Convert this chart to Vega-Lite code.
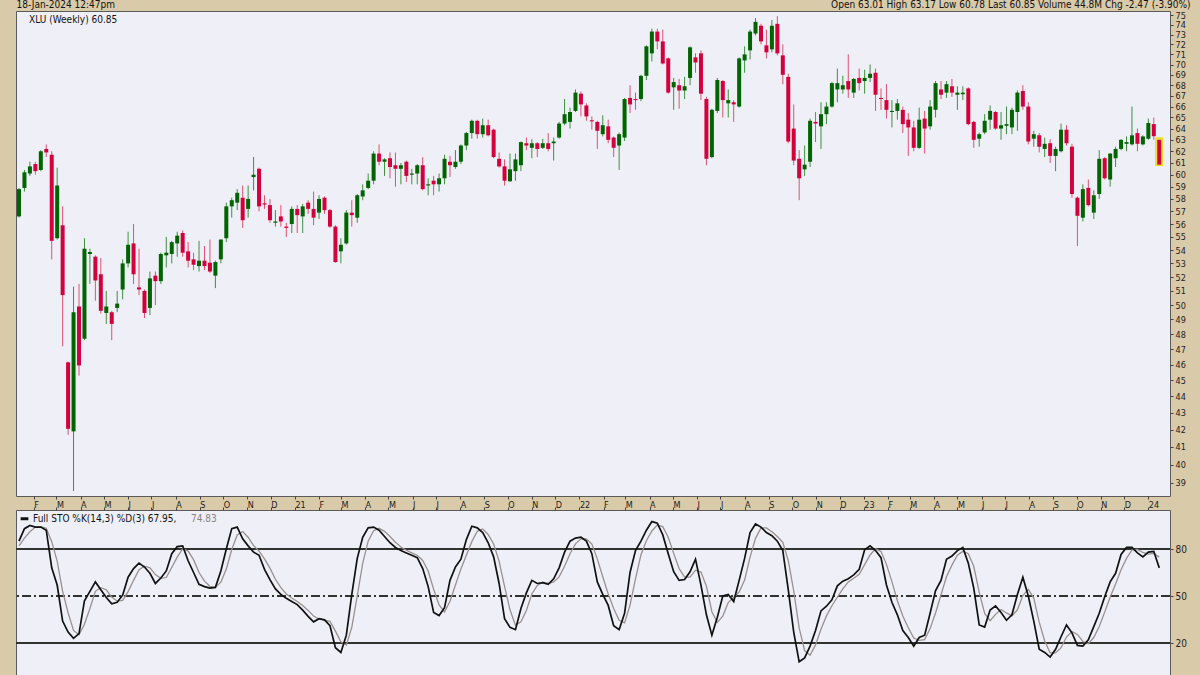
{
"$schema":"https://vega.github.io/schema/vega-lite/v6.json",
"background":"#d9caa9",
"padding":{"left":15,"top":-2,"right":20,"bottom":0},
"config":{
 "view":{"fill":"#eff0f7","stroke":"#5a5a5a","strokeWidth":1},
 "font":"Liberation Sans Narrow, DejaVu Sans Condensed, Liberation Sans, sans-serif",
 "axis":{"labelFont":"Liberation Sans Narrow, DejaVu Sans Condensed, Liberation Sans, sans-serif","titleFont":"Liberation Sans Narrow, DejaVu Sans Condensed, Liberation Sans, sans-serif","labelColor":"#222222","tickColor":"#444444","domain":false,"grid":false,"labelFontSize":9,"tickSize":3},
 "legend":{"labelFont":"Liberation Sans Narrow, DejaVu Sans Condensed, Liberation Sans, sans-serif"}
},
"datasets":{"w":[
{"d":"2020-01-13","o":56.6,"h":58.9,"l":56.5,"c":58.8,"k":85,"dv":82},
{"d":"2020-01-20","o":58.9,"h":60.4,"l":58.6,"c":60.2,"k":93,"dv":87},
{"d":"2020-01-27","o":60.1,"h":61.1,"l":59.9,"c":60.7,"k":95,"dv":91},
{"d":"2020-02-03","o":60.9,"h":61.1,"l":60.0,"c":60.3,"k":94,"dv":94},
{"d":"2020-02-10","o":60.4,"h":62.1,"l":60.3,"c":62.0,"k":94,"dv":94.3},
{"d":"2020-02-17","o":62.2,"h":62.6,"l":61.5,"c":61.9,"k":92,"dv":93.3},
{"d":"2020-02-24","o":61.7,"h":62.0,"l":53.3,"c":54.7,"k":68,"dv":84.7},
{"d":"2020-03-02","o":54.9,"h":60.6,"l":54.8,"c":59.1,"k":57,"dv":72.3},
{"d":"2020-03-09","o":55.9,"h":57.4,"l":47.2,"c":50.7,"k":34,"dv":53},
{"d":"2020-03-16","o":46.15,"h":46.2,"l":41.7,"c":42.05,"k":27,"dv":39.3},
{"d":"2020-03-23","o":41.9,"h":51.3,"l":38.55,"c":49.5,"k":23,"dv":28},
{"d":"2020-03-30","o":49.9,"h":51.5,"l":45.3,"c":45.95,"k":26,"dv":25.3},
{"d":"2020-04-06","o":47.7,"h":54.9,"l":47.6,"c":54.1,"k":47,"dv":32},
{"d":"2020-04-13","o":53.7,"h":54.1,"l":51.5,"c":53.85,"k":53,"dv":42},
{"d":"2020-04-20","o":53.5,"h":53.6,"l":50.3,"c":51.75,"k":59,"dv":53},
{"d":"2020-04-27","o":52.2,"h":53.4,"l":49.4,"c":49.6,"k":54,"dv":55.3},
{"d":"2020-05-04","o":49.45,"h":51.0,"l":48.7,"c":49.9,"k":49,"dv":54},
{"d":"2020-05-11","o":49.5,"h":49.6,"l":47.6,"c":48.7,"k":45,"dv":49.3},
{"d":"2020-05-18","o":49.8,"h":51.0,"l":49.5,"c":50.1,"k":46,"dv":46.7},
{"d":"2020-05-25","o":51.1,"h":53.3,"l":50.4,"c":53.0,"k":50.5,"dv":47.2},
{"d":"2020-06-01","o":53.0,"h":55.4,"l":52.7,"c":54.4,"k":62,"dv":52.8},
{"d":"2020-06-08","o":54.5,"h":56.0,"l":51.5,"c":52.2,"k":67.5,"dv":60},
{"d":"2020-06-15","o":51.25,"h":54.1,"l":50.7,"c":51.1,"k":71,"dv":66.8},
{"d":"2020-06-22","o":51.0,"h":51.1,"l":49.1,"c":49.45,"k":68.5,"dv":69},
{"d":"2020-06-29","o":49.8,"h":52.4,"l":49.3,"c":51.9,"k":64.5,"dv":68},
{"d":"2020-07-06","o":52.1,"h":52.4,"l":50.0,"c":51.7,"k":58,"dv":63.7},
{"d":"2020-07-13","o":51.7,"h":53.8,"l":51.5,"c":53.7,"k":61.5,"dv":61.3},
{"d":"2020-07-20","o":53.6,"h":55.0,"l":52.7,"c":53.8,"k":66,"dv":61.8},
{"d":"2020-07-27","o":53.7,"h":54.7,"l":53.0,"c":54.6,"k":77,"dv":68.2},
{"d":"2020-08-03","o":54.5,"h":55.4,"l":53.5,"c":55.1,"k":81.5,"dv":74.8},
{"d":"2020-08-10","o":55.3,"h":55.5,"l":53.5,"c":53.8,"k":82,"dv":80.2},
{"d":"2020-08-17","o":53.9,"h":54.6,"l":52.7,"c":53.2,"k":72.5,"dv":78.7},
{"d":"2020-08-24","o":53.3,"h":53.8,"l":52.5,"c":52.9,"k":65,"dv":73.2},
{"d":"2020-08-31","o":52.8,"h":54.7,"l":52.4,"c":53.2,"k":57.5,"dv":65},
{"d":"2020-09-07","o":53.2,"h":54.3,"l":52.5,"c":52.8,"k":56,"dv":59.5},
{"d":"2020-09-14","o":53.05,"h":54.8,"l":52.3,"c":52.4,"k":55,"dv":56.2},
{"d":"2020-09-21","o":52.1,"h":53.2,"l":51.2,"c":53.1,"k":55.5,"dv":55.5},
{"d":"2020-09-28","o":53.3,"h":54.8,"l":53.0,"c":54.8,"k":66,"dv":58.8},
{"d":"2020-10-05","o":54.9,"h":57.7,"l":54.6,"c":57.4,"k":80,"dv":67.2},
{"d":"2020-10-12","o":57.4,"h":58.1,"l":56.5,"c":57.9,"k":93,"dv":79.7},
{"d":"2020-10-19","o":57.7,"h":58.8,"l":57.1,"c":58.5,"k":94,"dv":89},
{"d":"2020-10-26","o":58.1,"h":59.1,"l":55.7,"c":56.3,"k":86.5,"dv":91.2},
{"d":"2020-11-02","o":57.2,"h":59.1,"l":56.5,"c":58.0,"k":82,"dv":87.5},
{"d":"2020-11-09","o":59.8,"h":61.5,"l":58.7,"c":60.0,"k":78,"dv":82.2},
{"d":"2020-11-16","o":60.5,"h":60.6,"l":57.0,"c":57.4,"k":76,"dv":78.7},
{"d":"2020-11-23","o":57.65,"h":58.3,"l":57.2,"c":57.55,"k":67,"dv":73.7},
{"d":"2020-11-30","o":57.5,"h":58.0,"l":56.1,"c":56.3,"k":60.5,"dv":67.8},
{"d":"2020-12-07","o":56.1,"h":57.1,"l":55.8,"c":56.2,"k":54.5,"dv":60.7},
{"d":"2020-12-14","o":56.6,"h":57.5,"l":55.8,"c":56.2,"k":51,"dv":55.3},
{"d":"2020-12-21","o":55.8,"h":56.1,"l":55.0,"c":55.7,"k":48.5,"dv":51.3},
{"d":"2020-12-28","o":56.0,"h":57.4,"l":55.3,"c":57.2,"k":46.5,"dv":48.7},
{"d":"2021-01-04","o":57.2,"h":57.5,"l":55.3,"c":56.7,"k":44.5,"dv":46.5},
{"d":"2021-01-11","o":56.6,"h":57.6,"l":55.3,"c":57.4,"k":41,"dv":44},
{"d":"2021-01-18","o":57.7,"h":57.9,"l":56.8,"c":57.2,"k":37,"dv":40.8},
{"d":"2021-01-25","o":57.2,"h":58.6,"l":55.9,"c":56.5,"k":33.5,"dv":37.2},
{"d":"2021-02-01","o":56.9,"h":58.3,"l":56.4,"c":58.0,"k":35.5,"dv":35.3},
{"d":"2021-02-08","o":58.1,"h":58.2,"l":56.8,"c":57.1,"k":34.8,"dv":34.6},
{"d":"2021-02-15","o":57.1,"h":57.2,"l":55.7,"c":55.8,"k":31,"dv":33.8},
{"d":"2021-02-22","o":55.8,"h":55.9,"l":53.05,"c":53.1,"k":17,"dv":27.6},
{"d":"2021-03-01","o":53.9,"h":54.9,"l":53.0,"c":54.4,"k":14,"dv":20.7},
{"d":"2021-03-08","o":54.5,"h":57.1,"l":54.4,"c":56.9,"k":25,"dv":18.7},
{"d":"2021-03-15","o":56.9,"h":57.9,"l":55.8,"c":56.7,"k":51,"dv":30},
{"d":"2021-03-22","o":56.5,"h":58.4,"l":56.1,"c":58.3,"k":74,"dv":50},
{"d":"2021-03-29","o":58.2,"h":59.2,"l":57.9,"c":58.7,"k":87.5,"dv":70.8},
{"d":"2021-04-05","o":58.9,"h":60.1,"l":58.8,"c":59.5,"k":93.5,"dv":85},
{"d":"2021-04-12","o":59.5,"h":62.0,"l":59.2,"c":61.8,"k":94,"dv":91.7},
{"d":"2021-04-19","o":61.8,"h":62.6,"l":60.8,"c":61.1,"k":92,"dv":93.2},
{"d":"2021-04-26","o":61.1,"h":61.4,"l":59.9,"c":61.3,"k":88,"dv":91.3},
{"d":"2021-05-03","o":61.4,"h":61.9,"l":59.7,"c":60.65,"k":84,"dv":88},
{"d":"2021-05-10","o":60.8,"h":61.9,"l":59.0,"c":60.5,"k":81,"dv":84.3},
{"d":"2021-05-17","o":60.5,"h":61.0,"l":59.2,"c":60.8,"k":79,"dv":81.3},
{"d":"2021-05-24","o":61.1,"h":61.2,"l":59.4,"c":59.9,"k":77.5,"dv":79.2},
{"d":"2021-05-31","o":60.0,"h":60.5,"l":59.2,"c":60.1,"k":76,"dv":77.5},
{"d":"2021-06-07","o":60.1,"h":60.9,"l":59.2,"c":60.8,"k":74.5,"dv":76},
{"d":"2021-06-14","o":60.8,"h":61.5,"l":58.7,"c":58.8,"k":67.5,"dv":72.7},
{"d":"2021-06-21","o":59.1,"h":59.7,"l":58.3,"c":59.2,"k":56,"dv":66},
{"d":"2021-06-28","o":59.5,"h":59.9,"l":58.3,"c":59.2,"k":39.5,"dv":54.3},
{"d":"2021-07-05","o":59.2,"h":60.1,"l":58.6,"c":59.7,"k":37.5,"dv":44.3},
{"d":"2021-07-12","o":59.7,"h":61.7,"l":59.2,"c":61.35,"k":42.5,"dv":39.8},
{"d":"2021-07-19","o":61.1,"h":61.6,"l":59.8,"c":60.8,"k":60,"dv":46.7},
{"d":"2021-07-26","o":60.65,"h":62.1,"l":60.5,"c":61.1,"k":68.5,"dv":57},
{"d":"2021-08-02","o":61.1,"h":62.6,"l":60.9,"c":62.5,"k":73.5,"dv":67.3},
{"d":"2021-08-09","o":62.5,"h":63.7,"l":62.1,"c":63.6,"k":86,"dv":76},
{"d":"2021-08-16","o":63.6,"h":64.8,"l":63.1,"c":64.7,"k":94.5,"dv":84.7},
{"d":"2021-08-23","o":64.7,"h":64.8,"l":63.1,"c":63.5,"k":93.5,"dv":91.3},
{"d":"2021-08-30","o":63.5,"h":64.9,"l":63.2,"c":64.3,"k":90.5,"dv":92.8},
{"d":"2021-09-06","o":64.3,"h":64.8,"l":63.3,"c":63.4,"k":84,"dv":89.3},
{"d":"2021-09-13","o":63.9,"h":64.0,"l":61.4,"c":61.5,"k":75,"dv":83.2},
{"d":"2021-09-20","o":61.35,"h":61.9,"l":60.6,"c":60.7,"k":58,"dv":72.3},
{"d":"2021-09-27","o":60.7,"h":61.3,"l":59.1,"c":59.5,"k":35.5,"dv":56.2},
{"d":"2021-10-04","o":59.45,"h":61.8,"l":59.4,"c":60.45,"k":30,"dv":41.2},
{"d":"2021-10-11","o":60.3,"h":61.8,"l":59.5,"c":61.3,"k":28.5,"dv":31.3},
{"d":"2021-10-18","o":60.8,"h":62.85,"l":60.3,"c":62.8,"k":42,"dv":33.5},
{"d":"2021-10-25","o":62.7,"h":63.2,"l":62.1,"c":62.5,"k":52,"dv":40.8},
{"d":"2021-11-01","o":62.3,"h":63.05,"l":61.4,"c":62.7,"k":60,"dv":51.3},
{"d":"2021-11-08","o":62.7,"h":62.8,"l":61.5,"c":62.2,"k":58,"dv":56.7},
{"d":"2021-11-15","o":62.3,"h":63.1,"l":62.2,"c":62.7,"k":58.5,"dv":58.8},
{"d":"2021-11-22","o":62.7,"h":63.6,"l":62.0,"c":62.2,"k":57.5,"dv":58},
{"d":"2021-11-29","o":62.7,"h":63.2,"l":61.2,"c":62.85,"k":61,"dv":59},
{"d":"2021-12-06","o":63.2,"h":64.6,"l":63.1,"c":64.45,"k":68,"dv":62.2},
{"d":"2021-12-13","o":64.45,"h":66.7,"l":64.3,"c":65.3,"k":78,"dv":69},
{"d":"2021-12-20","o":64.6,"h":65.9,"l":64.0,"c":65.5,"k":85,"dv":77},
{"d":"2021-12-27","o":65.6,"h":67.6,"l":65.5,"c":67.3,"k":87,"dv":83.3},
{"d":"2022-01-03","o":67.2,"h":67.4,"l":65.1,"c":66.2,"k":87.5,"dv":86.5},
{"d":"2022-01-10","o":66.1,"h":66.3,"l":64.7,"c":65.1,"k":85,"dv":86.5},
{"d":"2022-01-17","o":64.75,"h":65.1,"l":63.9,"c":64.65,"k":77,"dv":83.2},
{"d":"2022-01-24","o":64.6,"h":64.7,"l":62.2,"c":63.8,"k":59,"dv":73.7},
{"d":"2022-01-31","o":63.5,"h":65.2,"l":63.3,"c":64.3,"k":51,"dv":62.3},
{"d":"2022-02-07","o":64.2,"h":64.8,"l":62.7,"c":63.0,"k":44,"dv":51.3},
{"d":"2022-02-14","o":63.2,"h":63.3,"l":61.5,"c":62.3,"k":31,"dv":42},
{"d":"2022-02-21","o":62.5,"h":63.65,"l":60.4,"c":63.5,"k":28.5,"dv":34.5},
{"d":"2022-02-28","o":63.2,"h":66.8,"l":62.9,"c":66.7,"k":39,"dv":32.8},
{"d":"2022-03-07","o":66.8,"h":68.0,"l":65.4,"c":66.2,"k":65,"dv":44.2},
{"d":"2022-03-14","o":66.7,"h":67.3,"l":65.7,"c":66.6,"k":79,"dv":61},
{"d":"2022-03-21","o":66.7,"h":69.0,"l":66.5,"c":68.9,"k":85,"dv":76.3},
{"d":"2022-03-28","o":68.9,"h":71.9,"l":68.5,"c":71.8,"k":92,"dv":85.3},
{"d":"2022-04-04","o":71.1,"h":73.6,"l":70.3,"c":73.3,"k":97.5,"dv":91.5},
{"d":"2022-04-11","o":73.3,"h":73.6,"l":71.5,"c":72.3,"k":96.5,"dv":95.3},
{"d":"2022-04-18","o":72.3,"h":73.5,"l":70.0,"c":70.1,"k":89,"dv":94.3},
{"d":"2022-04-25","o":70.6,"h":70.7,"l":67.2,"c":67.3,"k":77,"dv":87.5},
{"d":"2022-05-02","o":67.8,"h":68.7,"l":65.7,"c":68.3,"k":65.5,"dv":77.2},
{"d":"2022-05-09","o":68.0,"h":68.6,"l":65.8,"c":67.5,"k":60,"dv":67.5},
{"d":"2022-05-16","o":67.5,"h":68.8,"l":66.7,"c":67.9,"k":60.5,"dv":62},
{"d":"2022-05-23","o":68.7,"h":71.8,"l":68.0,"c":71.7,"k":65.5,"dv":62},
{"d":"2022-05-30","o":70.7,"h":71.1,"l":69.2,"c":70.2,"k":73.5,"dv":66.5},
{"d":"2022-06-06","o":71.1,"h":71.4,"l":66.6,"c":67.2,"k":57,"dv":65.3},
{"d":"2022-06-13","o":66.7,"h":66.9,"l":60.8,"c":61.35,"k":38,"dv":56.2},
{"d":"2022-06-20","o":61.5,"h":65.8,"l":61.4,"c":65.7,"k":25,"dv":40},
{"d":"2022-06-27","o":65.6,"h":68.7,"l":65.4,"c":68.5,"k":36.5,"dv":33.2},
{"d":"2022-07-04","o":68.4,"h":68.5,"l":65.0,"c":66.6,"k":50,"dv":37.2},
{"d":"2022-07-11","o":66.3,"h":67.6,"l":65.0,"c":66.6,"k":51,"dv":45.8},
{"d":"2022-07-18","o":66.4,"h":66.6,"l":64.6,"c":66.2,"k":46.5,"dv":49.2},
{"d":"2022-07-25","o":66.0,"h":70.7,"l":65.9,"c":70.6,"k":60,"dv":52.5},
{"d":"2022-08-01","o":70.4,"h":71.8,"l":69.2,"c":71.0,"k":74,"dv":60.2},
{"d":"2022-08-08","o":71.4,"h":73.5,"l":70.5,"c":73.3,"k":90.5,"dv":74.8},
{"d":"2022-08-15","o":73.1,"h":74.7,"l":72.9,"c":74.3,"k":96,"dv":86.8},
{"d":"2022-08-22","o":73.9,"h":74.1,"l":72.0,"c":72.3,"k":94,"dv":93.5},
{"d":"2022-08-29","o":71.9,"h":73.5,"l":70.6,"c":71.2,"k":90.5,"dv":93.5},
{"d":"2022-09-05","o":71.5,"h":74.5,"l":71.2,"c":73.9,"k":88.5,"dv":91},
{"d":"2022-09-12","o":74.1,"h":74.9,"l":70.9,"c":71.1,"k":85,"dv":88},
{"d":"2022-09-19","o":70.9,"h":72.0,"l":68.1,"c":69.0,"k":79,"dv":84.2},
{"d":"2022-09-26","o":68.8,"h":69.1,"l":62.7,"c":62.85,"k":54,"dv":72.7},
{"d":"2022-10-03","o":64.0,"h":66.2,"l":60.8,"c":61.2,"k":27,"dv":53.3},
{"d":"2022-10-10","o":61.35,"h":62.1,"l":57.9,"c":59.7,"k":8,"dv":29.7},
{"d":"2022-10-17","o":60.45,"h":62.5,"l":59.9,"c":60.85,"k":10.5,"dv":15.2},
{"d":"2022-10-24","o":61.1,"h":64.9,"l":60.65,"c":64.7,"k":18,"dv":12.2},
{"d":"2022-10-31","o":64.6,"h":65.5,"l":62.8,"c":64.45,"k":28,"dv":18.8},
{"d":"2022-11-07","o":64.2,"h":66.4,"l":62.2,"c":65.3,"k":40.5,"dv":28.8},
{"d":"2022-11-14","o":65.3,"h":66.4,"l":64.4,"c":66.0,"k":43.5,"dv":37.3},
{"d":"2022-11-21","o":66.0,"h":68.3,"l":65.9,"c":68.2,"k":47.5,"dv":43.8},
{"d":"2022-11-28","o":67.6,"h":69.6,"l":66.4,"c":68.2,"k":56.5,"dv":49.2},
{"d":"2022-12-05","o":67.6,"h":68.9,"l":67.2,"c":68.0,"k":59.5,"dv":54.5},
{"d":"2022-12-12","o":68.4,"h":71.0,"l":66.8,"c":67.6,"k":61,"dv":59},
{"d":"2022-12-19","o":67.3,"h":68.7,"l":66.8,"c":68.6,"k":63.5,"dv":61.3},
{"d":"2022-12-26","o":68.7,"h":69.6,"l":67.5,"c":68.2,"k":67,"dv":63.8},
{"d":"2023-01-02","o":68.4,"h":69.5,"l":67.2,"c":68.7,"k":79.5,"dv":70},
{"d":"2023-01-09","o":68.7,"h":70.0,"l":68.3,"c":69.1,"k":82,"dv":76.2},
{"d":"2023-01-16","o":69.2,"h":69.6,"l":65.6,"c":67.1,"k":79,"dv":80.2},
{"d":"2023-01-23","o":66.8,"h":67.7,"l":65.7,"c":66.7,"k":74.5,"dv":78.5},
{"d":"2023-01-30","o":66.6,"h":68.1,"l":64.9,"c":65.7,"k":57,"dv":70.2},
{"d":"2023-02-06","o":65.5,"h":66.6,"l":64.1,"c":65.6,"k":46,"dv":59.2},
{"d":"2023-02-13","o":65.6,"h":66.7,"l":64.8,"c":66.3,"k":38,"dv":47},
{"d":"2023-02-20","o":65.7,"h":66.0,"l":63.6,"c":64.4,"k":28,"dv":37.3},
{"d":"2023-02-27","o":64.8,"h":65.4,"l":61.6,"c":64.1,"k":23.5,"dv":29.8},
{"d":"2023-03-06","o":64.1,"h":64.7,"l":62.0,"c":62.3,"k":18,"dv":23.2},
{"d":"2023-03-13","o":62.3,"h":65.9,"l":62.2,"c":64.8,"k":23.5,"dv":21.7},
{"d":"2023-03-20","o":64.9,"h":65.6,"l":61.8,"c":64.0,"k":25,"dv":22.2},
{"d":"2023-03-27","o":64.2,"h":66.6,"l":63.9,"c":66.0,"k":39,"dv":29.2},
{"d":"2023-04-03","o":65.7,"h":68.4,"l":65.0,"c":68.2,"k":53.5,"dv":39.2},
{"d":"2023-04-10","o":67.6,"h":68.4,"l":66.7,"c":67.1,"k":60,"dv":50.8},
{"d":"2023-04-17","o":67.3,"h":68.4,"l":66.8,"c":68.1,"k":73.5,"dv":62.3},
{"d":"2023-04-24","o":67.9,"h":68.6,"l":66.9,"c":67.3,"k":75.5,"dv":69.7},
{"d":"2023-05-01","o":67.1,"h":67.9,"l":65.7,"c":67.3,"k":79,"dv":76},
{"d":"2023-05-08","o":67.15,"h":67.9,"l":66.6,"c":67.3,"k":81,"dv":78.5},
{"d":"2023-05-15","o":67.7,"h":67.8,"l":64.3,"c":64.4,"k":71,"dv":77},
{"d":"2023-05-22","o":64.6,"h":64.7,"l":62.3,"c":63.0,"k":55,"dv":69},
{"d":"2023-05-29","o":63.1,"h":63.65,"l":62.4,"c":63.5,"k":31.5,"dv":52.5},
{"d":"2023-06-05","o":63.65,"h":65.3,"l":63.5,"c":64.7,"k":30.2,"dv":38.9},
{"d":"2023-06-12","o":64.8,"h":66.1,"l":63.9,"c":65.6,"k":41,"dv":34.2},
{"d":"2023-06-19","o":65.5,"h":65.6,"l":63.9,"c":64.0,"k":43.7,"dv":38.3},
{"d":"2023-06-26","o":64.0,"h":65.5,"l":63.0,"c":64.3,"k":39.5,"dv":41.4},
{"d":"2023-07-03","o":64.25,"h":66.0,"l":63.5,"c":64.4,"k":34.5,"dv":39.2},
{"d":"2023-07-10","o":64.1,"h":65.9,"l":63.5,"c":65.7,"k":38,"dv":37.3},
{"d":"2023-07-17","o":65.5,"h":67.5,"l":63.8,"c":67.3,"k":51,"dv":41.2},
{"d":"2023-07-24","o":67.45,"h":68.0,"l":65.7,"c":66.0,"k":62,"dv":50.3},
{"d":"2023-07-31","o":66.0,"h":66.4,"l":62.6,"c":62.85,"k":50,"dv":54.3},
{"d":"2023-08-07","o":63.1,"h":63.8,"l":62.4,"c":63.5,"k":34,"dv":48.7},
{"d":"2023-08-14","o":63.4,"h":63.6,"l":61.9,"c":62.4,"k":16,"dv":33.3},
{"d":"2023-08-21","o":62.2,"h":63.2,"l":61.5,"c":62.65,"k":14,"dv":21.3},
{"d":"2023-08-28","o":62.7,"h":63.05,"l":61.0,"c":61.6,"k":11,"dv":13.7},
{"d":"2023-09-04","o":61.6,"h":62.4,"l":60.3,"c":62.2,"k":16,"dv":13.7},
{"d":"2023-09-11","o":62.0,"h":64.45,"l":61.9,"c":63.9,"k":24,"dv":17},
{"d":"2023-09-18","o":63.9,"h":64.3,"l":62.5,"c":62.7,"k":31.5,"dv":23.8},
{"d":"2023-09-25","o":62.4,"h":62.65,"l":58.1,"c":58.4,"k":26.5,"dv":27.3},
{"d":"2023-10-02","o":58.1,"h":58.2,"l":54.3,"c":56.65,"k":18.5,"dv":25.5},
{"d":"2023-10-09","o":56.5,"h":59.2,"l":56.2,"c":58.8,"k":18,"dv":21},
{"d":"2023-10-16","o":58.9,"h":59.6,"l":57.4,"c":57.5,"k":22,"dv":19.5},
{"d":"2023-10-23","o":56.9,"h":58.7,"l":56.4,"c":58.3,"k":30.5,"dv":23.5},
{"d":"2023-10-30","o":58.4,"h":62.1,"l":58.0,"c":61.35,"k":39,"dv":30.5},
{"d":"2023-11-06","o":61.4,"h":61.5,"l":59.6,"c":59.7,"k":49.5,"dv":39.7},
{"d":"2023-11-13","o":59.6,"h":61.85,"l":59.0,"c":61.8,"k":59,"dv":49.2},
{"d":"2023-11-20","o":61.4,"h":62.4,"l":60.65,"c":62.2,"k":64.5,"dv":57.7},
{"d":"2023-11-27","o":62.2,"h":63.05,"l":62.1,"c":63.0,"k":76.5,"dv":66.7},
{"d":"2023-12-04","o":62.65,"h":63.3,"l":62.0,"c":62.8,"k":81,"dv":74},
{"d":"2023-12-11","o":62.6,"h":66.0,"l":62.5,"c":63.4,"k":81,"dv":79.5},
{"d":"2023-12-18","o":63.6,"h":64.0,"l":62.0,"c":62.65,"k":77.5,"dv":79.8},
{"d":"2023-12-25","o":62.6,"h":63.4,"l":62.5,"c":63.3,"k":75,"dv":77.8},
{"d":"2024-01-01","o":63.1,"h":64.9,"l":63.0,"c":64.5,"k":78,"dv":76.8},
{"d":"2024-01-08","o":64.4,"h":65.0,"l":63.0,"c":63.32,"k":78.5,"dv":77.2},
{"d":"2024-01-15","o":63.01,"h":63.17,"l":60.78,"c":60.85,"k":67.95,"dv":74.83}
]},
"spacing":14,
"bounds":"flush",
"resolve":{"scale":{"color":"independent"},"legend":{"color":"independent"}},
"vconcat":[
{
 "width":1154,"height":485,
 "data":{"name":"w"},
 "layer":[
  {"mark":{"type":"rule","strokeWidth":1},
   "encoding":{
    "x":{"field":"d","type":"temporal",
     "scale":{"type":"utc","nice":false,"padding":0,"domain":[{"year":2020,"month":1,"date":9,"hours":4,"utc":true},{"year":2024,"month":1,"date":28,"hours":19,"utc":true}]},
     "axis":{"orient":"bottom","tickCount":{"interval":"month","step":1},
      "labelExpr":"utcmonth(datum.value) == 0 ? utcFormat(datum.value, '%y') : slice(utcFormat(datum.value, '%b'), 0, 1)",
      "labelAlign":"left","labelPadding":1,"labelOverlap":false,"labelFlush":false,"labelFontSize":9,
      "title":"Open 63.01  High 63.17  Low 60.78  Last 60.85  Volume 44.8M  Chg -2.47 (-3.90%)",
      "titleX":1174,"titleY":-487,"titleAlign":"right","titleBaseline":"bottom","titleFontSize":10,"titleFontWeight":"normal","titleColor":"#111111"}},
    "y":{"field":"l","type":"quantitative",
     "scale":{"type":"log","domain":[38.28,75.44],"nice":false,"zero":false},
     "axis":{"orient":"right","values":[39,40,41,42,43,44,45,46,47,48,49,50,51,52,53,54,55,56,57,58,59,60,61,62,63,64,65,66,67,68,69,70,71,72,73,74,75],
      "format":"d","labelOverlap":false,"labelPadding":2,"labelFontSize":9,
      "title":"18-Jan-2024 12:47pm","titleAngle":0,"titleX":-1154,"titleY":-2,"titleAlign":"left","titleBaseline":"bottom","titleFontSize":10,"titleFontWeight":"normal","titleColor":"#111111"}},
    "y2":{"field":"h"},
    "color":{"condition":{"test":"datum.c >= datum.o","value":"#3f8f3f"},"value":"#e0506f"}
   }},
  {"transform":[{"filter":"datum.o == 63.01"}],
   "mark":{"type":"bar","size":7,"fill":"#f3e85a","stroke":"#e8d800","strokeWidth":1},
   "encoding":{"x":{"field":"d","type":"temporal"},"y":{"field":"h","type":"quantitative"},"y2":{"field":"l"}}},
  {"mark":{"type":"bar","size":4},
   "encoding":{
    "x":{"field":"d","type":"temporal"},
    "y":{"field":"o","type":"quantitative"},
    "y2":{"field":"c"},
    "color":{"condition":{"test":"datum.c >= datum.o","value":"#006400"},"value":"#d4003c"}
   }},
  {"data":{"values":[{"t":"XLU (Weekly) 60.85"}]},
   "mark":{"type":"text","align":"left","baseline":"middle","fontSize":10,"color":"#111111"},
   "encoding":{"x":{"datum":{"year":2020,"month":1,"date":26,"utc":true},"type":"temporal"},"y":{"datum":74.5},"text":{"field":"t"}}}
 ]
},
{
 "width":1154,"height":167,
 "data":{"name":"w"},
 "layer":[
  {"mark":{"type":"rule","color":"#333333","strokeWidth":1},"encoding":{"y":{"datum":80}}},
  {"mark":{"type":"rule","color":"#333333","strokeWidth":1},"encoding":{"y":{"datum":20}}},
  {"mark":{"type":"rule","color":"#333333","strokeWidth":1,"strokeDash":[9,3,2,3]},"encoding":{"y":{"datum":50}}},
  {"mark":{"type":"line","strokeWidth":1.3},
   "encoding":{
    "x":{"field":"d","type":"temporal",
     "scale":{"type":"utc","nice":false,"padding":0,"domain":[{"year":2020,"month":1,"date":9,"hours":4,"utc":true},{"year":2024,"month":1,"date":28,"hours":19,"utc":true}]},
     "axis":{"orient":"top","labels":false,"tickCount":{"interval":"month","step":1},"title":null}},
    "y":{"field":"dv","type":"quantitative",
     "scale":{"domain":[-1.7,104.9],"nice":false,"zero":false},
     "axis":{"orient":"right","values":[20,50,80],"labelPadding":2,"labelFontSize":10,"title":null}},
    "color":{"datum":"%D","type":"nominal",
     "scale":{"domain":["%K","%D"],"range":["#111111","#9a9090"]},
     "legend":{"orient":"top-left","direction":"horizontal","title":null,"offset":3,"padding":0,
      "labelFontSize":10,"labelColor":"#111111","symbolType":"stroke","symbolStrokeWidth":3,"symbolSize":60,
      "columnPadding":0,"labelOffset":3,"labelLimit":400,
      "labelExpr":"datum.label == '%K' ? 'Full STO %K(14,3) %D(3) 67.95,' : '74.83'",
      "encode":{"symbols":{"update":{"opacity":{"signal":"datum.value == '%D' ? 0 : 1"}}},
                "labels":{"update":{"fill":{"signal":"datum.value == '%D' ? '#8a8080' : '#111111'"}}}}}}
   }},
  {"mark":{"type":"line","strokeWidth":1.7},
   "encoding":{
    "x":{"field":"d","type":"temporal"},
    "y":{"field":"k","type":"quantitative"},
    "color":{"datum":"%K","type":"nominal"}
   }}
 ]
}
]
}
